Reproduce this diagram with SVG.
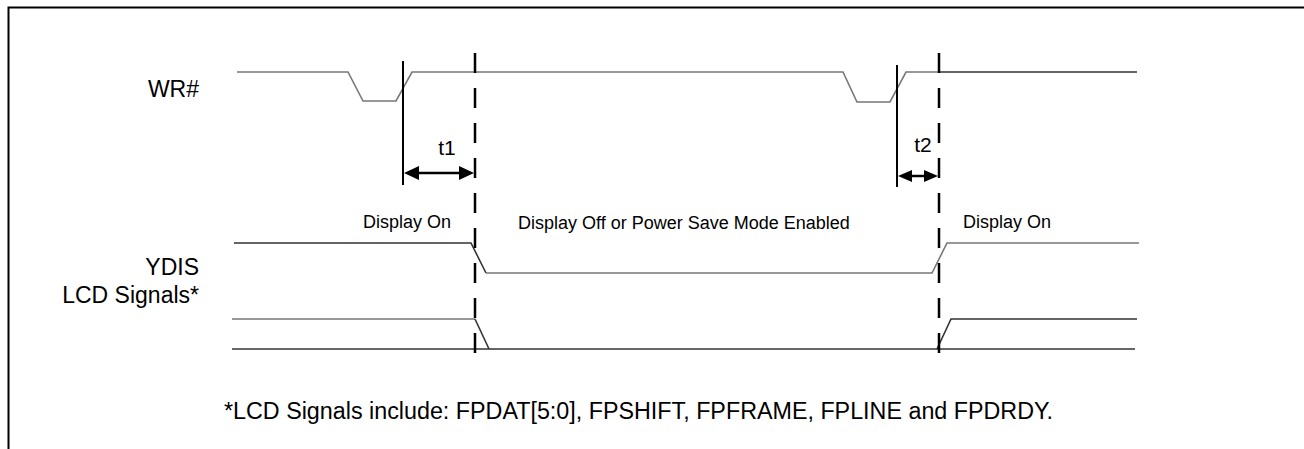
<svg xmlns="http://www.w3.org/2000/svg" width="1304" height="449" viewBox="0 0 1304 449">
<defs>
<style>
text{font-family:"Liberation Sans",Arial,sans-serif;fill:#000}
.lbl{font-size:23px;text-anchor:end}
.ann{font-size:18px}
.tl{font-size:21px;text-anchor:middle}
.sig{fill:none;stroke:#333;stroke-width:1.6}
.sigg{fill:none;stroke:#777;stroke-width:1.6}
.dash{stroke:#000;stroke-width:2.5;stroke-dasharray:20 15}
.vl{stroke:#000;stroke-width:2}
.arr{stroke:#000;stroke-width:2.5}
</style>
</defs>
<rect x="0" y="0" width="1304" height="449" fill="#fff"/>
<path d="M8.5,460 V7.5 H1310" fill="none" stroke="#000" stroke-width="2"/>
<g id="wr">
<text class="lbl" x="199" y="97">WR#</text>
<path class="sigg" d="M237,72 H348 L363,101 H396 L412,72 H843 L857,102 H890 L906,72 H939"/>
<path class="sig" d="M939,72 H1137"/>
</g>
<g id="ydis">
<text class="lbl" x="199" y="275">YDIS</text>
<path class="sig" d="M234,243 H471 L486,273"/>
<path class="sigg" d="M486,273 H932 L947,243 H1139"/>
</g>
<g id="lcd">
<text class="lbl" x="199" y="303">LCD Signals*</text>
<path class="sigg" d="M232,319 H475"/>
<path class="sig" d="M475,319 L489,349"/>
<path class="sig" d="M232,349 H1135"/>
<path class="sig" d="M937,349 L951,319 H1137"/>
</g>
<g id="labels">
<text class="ann" x="363" y="228">Display On</text>
<text class="ann" x="518" y="229">Display Off or Power Save Mode Enabled</text>
<text class="ann" x="963" y="228">Display On</text>
<text class="tl" x="447" y="155">t1</text>
<text class="tl" x="923" y="152">t2</text>
</g>
<g id="connectors">
<line class="dash" x1="475" y1="53" x2="475" y2="356"/>
<line class="dash" x1="939" y1="53" x2="939" y2="356"/>
<line class="vl" x1="403" y1="61" x2="403" y2="185"/>
<line class="vl" x1="897" y1="65" x2="897" y2="187"/>
<line class="arr" x1="415" y1="173" x2="463" y2="173"/>
<path d="M404,173 L419,166 L419,180 Z M474,173 L459,166 L459,180 Z" fill="#000"/>
<line class="arr" x1="908" y1="176" x2="928" y2="176"/>
<path d="M898,176 L912,170 L912,182 Z M938,176 L924,170 L924,182 Z" fill="#000"/>
</g>
<g id="footnote">
<text x="224" y="419" style="font-size:23.3px">*LCD Signals include: FPDAT[5:0], FPSHIFT, FPFRAME, FPLINE and FPDRDY.</text>
</g>
</svg>
